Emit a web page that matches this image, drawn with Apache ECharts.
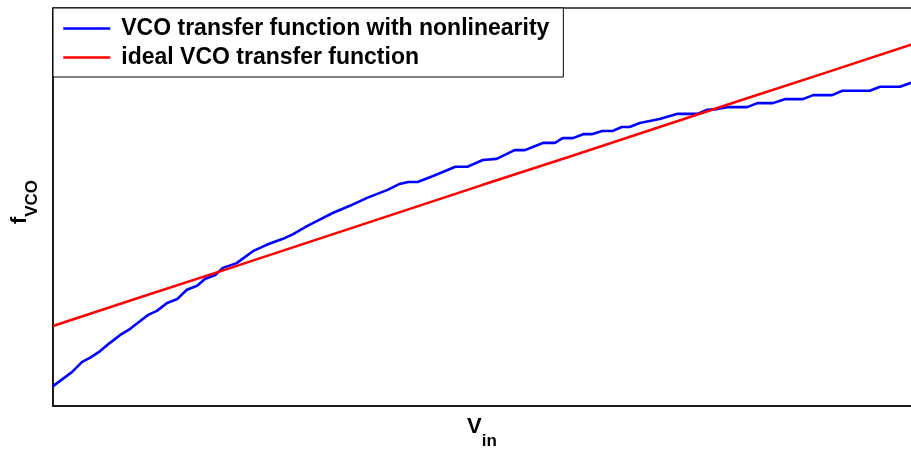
<!DOCTYPE html>
<html>
<head>
<meta charset="utf-8">
<script src="https://cdn.jsdelivr.net/npm/echarts@6/dist/echarts.min.js"></script>
<style>
html,body{margin:0;padding:0;background:#fff;}
#chart{width:911px;height:449px;}
</style>
</head>
<body>
<div id="chart"></div>
<script>
const seriesNames = ['VCO transfer function with nonlinearity', 'ideal VCO transfer function'];

const vinNonlinear = [0, 2.2, 3.4, 4.3, 5.5, 6.6, 7.8, 9.0, 9.9, 11.1, 12.1, 13.3, 14.5, 15.6, 16.8, 17.7, 18.9, 19.8, 21.4, 23.3, 24.9, 26.8, 28.0, 29.6, 30.8, 32.6, 34.6, 36.6, 39.0, 40.4, 41.4, 42.5, 44.3, 46.9, 48.3, 50.1, 51.7, 53.8, 55.0, 57.1, 58.5, 59.4, 60.6, 61.8, 62.8, 64.0, 65.2, 66.3, 67.2, 68.4, 70.7, 72.8, 75.1, 76.2, 77.4, 78.6, 80.9, 82.1, 83.9, 85.3, 87.4, 88.6, 90.8, 92.0, 95.2, 96.4, 98.7, 100];
const fNonlinear = [5.0, 8.5, 11.1, 12.1, 13.8, 15.8, 17.8, 19.4, 20.9, 22.9, 23.9, 25.9, 26.9, 29.2, 30.2, 31.9, 32.9, 34.7, 35.9, 38.9, 40.5, 42.0, 43.2, 45.2, 46.5, 48.5, 50.3, 52.3, 54.3, 55.8, 56.3, 56.3, 57.8, 60.1, 60.1, 61.8, 62.1, 64.3, 64.3, 66.1, 66.1, 67.3, 67.3, 68.3, 68.3, 69.1, 69.1, 70.1, 70.1, 71.1, 72.1, 73.4, 73.4, 74.4, 74.6, 75.1, 75.1, 76.1, 76.1, 77.1, 77.1, 78.1, 78.1, 79.2, 79.2, 80.2, 80.2, 81.2];

const vinIdeal = [0, 10, 20, 30, 40, 50, 60, 70, 80, 90, 100];
const fIdeal = [20.1, 27.2, 34.2, 41.3, 48.4, 55.5, 62.5, 69.6, 76.7, 83.7, 90.8];

const xAxisName = {main: 'V', sub: 'in'};
const yAxisName = {main: 'f', sub: 'VCO'};

const pairs = (xs, ys) => xs.map((x, i) => [x, ys[i]]);

const chart = echarts.init(document.getElementById('chart'), null, {renderer: 'canvas'});
const font = 'Liberation Sans, Arial, sans-serif';

chart.setOption({
  animation: false,
  backgroundColor: '#ffffff',
  grid: {left: 53, right: 0, top: 8, bottom: 43, containLabel: false, outerBoundsMode: 'none'},
  legend: {
    show: true,
    left: 53,
    top: 8,
    orient: 'vertical',
    backgroundColor: '#ffffff',
    borderColor: '#000000',
    borderWidth: 1,
    borderRadius: 0,
    padding: [9, 14, 8, 9],
    itemGap: 6,
    itemWidth: 47,
    itemHeight: 22,
    itemStyle: {color: 'rgba(0,0,0,0)', borderWidth: 0, opacity: 0},
    lineStyle: {width: 2.5},
    data: seriesNames,
    formatter: function (name) { return '{t|' + name + '}'; },
    textStyle: {
      fontFamily: font,
      fontWeight: 'bold',
      fontSize: 23,
      color: '#000000',
      rich: {
        t: {fontFamily: font, fontWeight: 'bold', fontSize: 23, lineHeight: 22, color: '#000000', padding: [0, 0, 0, 6]}
      }
    }
  },
  xAxis: [{
    type: 'value',
    min: 0,
    max: 100,
    position: 'bottom',
    axisLine: {show: true, onZero: false, lineStyle: {color: '#1a1a1a', width: 2}},
    axisTick: {show: false},
    axisLabel: {show: false},
    splitLine: {show: false},
    name: '{m|' + xAxisName.main + '}{s|' + xAxisName.sub + '}',
    nameLocation: 'middle',
    nameGap: 16,
    nameTextStyle: {
      rich: {
        m: {fontFamily: font, fontWeight: 'bold', fontSize: 22, lineHeight: 22, color: '#000', padding: [0, 0, 12, 0]},
        s: {fontFamily: font, fontWeight: 'bold', fontSize: 17, lineHeight: 17, color: '#000', padding: [17, 0, 0, 0]}
      }
    }
  }, {
    type: 'value',
    min: 0,
    max: 100,
    position: 'top',
    axisLine: {show: true, onZero: false, lineStyle: {color: '#555555', width: 2}},
    axisTick: {show: false},
    axisLabel: {show: false},
    splitLine: {show: false}
  }],
  yAxis: {
    type: 'value',
    min: 0,
    max: 100,
    axisLine: {show: true, onZero: false, lineStyle: {color: '#1a1a1a', width: 2}},
    axisTick: {show: false},
    axisLabel: {show: false},
    splitLine: {show: false},
    name: '{m|' + yAxisName.main + '}{s|' + yAxisName.sub + '}',
    nameLocation: 'middle',
    nameRotate: 90,
    nameGap: 17,
    nameTextStyle: {
      rich: {
        m: {fontFamily: font, fontWeight: 'bold', fontSize: 22, lineHeight: 22, color: '#000', padding: [0, 0, 10, 10]},
        s: {fontFamily: font, fontWeight: 'bold', fontSize: 17, lineHeight: 17, color: '#000', padding: [15, 0, 0, 0]}
      }
    }
  },
  series: [{
    name: seriesNames[0],
    type: 'line',
    xAxisIndex: 0,
    data: pairs(vinNonlinear, fNonlinear),
    symbol: 'none',
    lineStyle: {color: '#0000ff', width: 2.6},
    itemStyle: {color: '#0000ff'}
  }, {
    name: seriesNames[1],
    type: 'line',
    xAxisIndex: 0,
    data: pairs(vinIdeal, fIdeal),
    symbol: 'none',
    lineStyle: {color: '#ff0000', width: 2.6},
    itemStyle: {color: '#ff0000'}
  }]
});
</script>
</body>
</html>
